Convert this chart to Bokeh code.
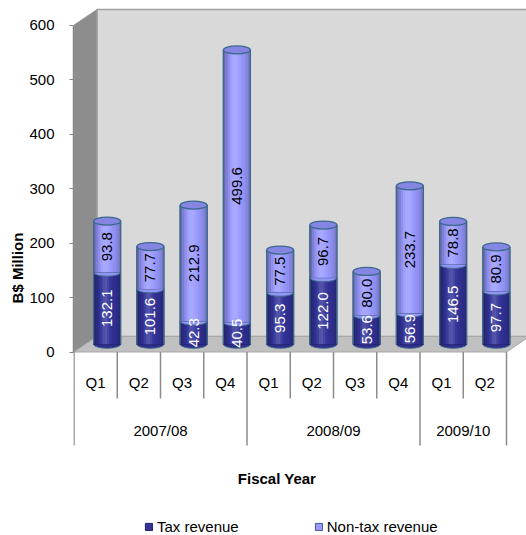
import math
from bokeh.plotting import figure
from bokeh.models import ColumnDataSource, Range1d, FixedTicker, Legend, LegendItem
from bokeh.core.properties import value
from bokeh.embed import file_html
from bokeh.resources import INLINE

# ---------------- data ----------------
years = ["2007/08", "2008/09", "2009/10"]
year_quarter_counts = [4, 4, 2]
quarters = ["Q1", "Q2", "Q3", "Q4", "Q1", "Q2", "Q3", "Q4", "Q1", "Q2"]
tax_revenue = [132.1, 101.6, 42.3, 40.5, 95.3, 122.0, 53.6, 56.9, 146.5, 97.7]
non_tax_revenue = [93.8, 77.7, 212.9, 499.6, 77.5, 96.7, 80.0, 233.7, 78.8, 80.9]
y_ticks = [0, 100, 200, 300, 400, 500, 600]
series_names = ["Tax revenue", "Non-tax revenue"]

# ---------------- geometry / style ----------------
W, H = 526, 535
LEFT = 73
PX_X = 43.25          # pixels per category
PX_Y = 0.545          # pixels per value unit
Y0_PX = 351.5         # pixel row of value 0
n = len(quarters)
YMAX = y_ticks[-1]

x_start = -0.5 - 0.5 / PX_X
x_end = x_start + (W - LEFT) / PX_X
y_end = Y0_PX / PX_Y
y_start = -(H - Y0_PX) / PX_Y

DX = 23 / PX_X        # 3D depth offset
DY = 15.5 / PX_Y
BW = 27 / PX_X        # cylinder width
EH = 8 / PX_Y         # ellipse height

FONT = value("Liberation Sans")
TAX = (0x33, 0x33, 0x99)
NONTAX = (0x99, 0x99, 0xFF)
EDGE = "#3d6a8c"


def shade(rgb, f):
    out = []
    for c in rgb:
        if f >= 1:
            v = c + (255 - c) * (f - 1) * 1.6
        else:
            v = c * f
        out.append(int(max(0, min(255, round(v)))))
    return "#%02x%02x%02x" % tuple(out)


profile = [0.70, 0.82, 0.93, 1.03, 1.09, 1.10, 1.06, 1.01, 0.97, 0.93, 0.87, 0.78]
NS = len(profile)

p = figure(width=W, height=H, output_backend="svg", toolbar_location=None,
           x_axis_location=None, y_axis_location="left", title=None,
           x_range=Range1d(x_start, x_end), y_range=Range1d(y_start, y_end),
           min_border_left=LEFT, min_border_right=0, min_border_top=0, min_border_bottom=0)
p.outline_line_color = None
p.grid.visible = False
p.background_fill_color = "white"
p.border_fill_color = "white"

ax = p.yaxis[0]
ax.ticker = FixedTicker(ticks=y_ticks, minor_ticks=[])
ax.bounds = (0, YMAX)
ax.axis_line_color = "#868686"
ax.axis_line_width = 1.5
ax.major_tick_line_color = "#868686"
ax.major_tick_out = 4
ax.major_tick_in = 0
ax.major_label_standoff = 15
ax.major_label_text_font = "Liberation Sans"
ax.major_label_text_font_size = "15px"
ax.major_label_text_color = "#000000"
ax.axis_label = "B$ Million"
ax.axis_label_text_font = "Liberation Sans"
ax.axis_label_text_font_size = "15px"
ax.axis_label_text_font_style = "bold"
ax.axis_label_text_color = "#000000"
ax.axis_label_standoff = 0

# ---------------- 3D walls ----------------
L0 = -0.5
R0 = n - 0.5
p.patch([L0 + DX, R0 + DX, R0 + DX, L0 + DX], [DY, DY, YMAX + DY, YMAX + DY],
        fill_color="#d9d9d9", line_color="#a0a0a0", line_width=1.5)
p.patch([L0, L0 + DX, L0 + DX, L0], [0, DY, YMAX + DY, YMAX],
        fill_color="#8d8d8d", line_color="#a0a0a0", line_width=1)
p.patch([L0, R0, R0 + DX, L0 + DX], [0, 0, DY, DY],
        fill_color="#c0c0c0", line_color="#a8a8a8", line_width=1)

# ---------------- cylinders ----------------
cx = [i + DX / 2 for i in range(n)]
tax_bottom = [DY / 2] * n
tax_top = [DY / 2 + t for t in tax_revenue]
total_top = [DY / 2 + t + nt for t, nt in zip(tax_revenue, non_tax_revenue)]

# bottom of stack
p.ellipse(x=cx, y=tax_bottom, width=BW, height=EH,
          fill_color=shade(TAX, 0.9), line_color=EDGE, line_width=1)
# base bar (covered by shading strips; also used as legend swatch)
r_tax = p.vbar(x=cx, bottom=tax_bottom, top=tax_top, width=BW,
               fill_color=shade(TAX, 1.0), line_color="#22226a", line_width=1)
for k, f in enumerate(profile):
    xs = [c - BW / 2 + (k + 0.5) * BW / NS for c in cx]
    p.vbar(x=xs, bottom=tax_bottom, top=tax_top, width=BW / NS * 1.08,
           fill_color=shade(TAX, f), line_color=None)
# bottom edge of non-tax segment (curved boundary)
p.ellipse(x=cx, y=tax_top, width=BW, height=EH,
          fill_color=shade(NONTAX, 0.97), line_color=EDGE, line_width=1)
r_non = p.vbar(x=cx, bottom=tax_top, top=total_top, width=BW,
               fill_color=shade(NONTAX, 1.0), line_color="#3d5a8c", line_width=1)
for k, f in enumerate(profile):
    xs = [c - BW / 2 + (k + 0.5) * BW / NS for c in cx]
    p.vbar(x=xs, bottom=tax_top, top=total_top, width=BW / NS * 1.08,
           fill_color=shade(NONTAX, f), line_color=None)
# sides
p.segment(x0=[c - BW / 2 for c in cx], y0=tax_bottom, x1=[c - BW / 2 for c in cx], y1=total_top,
          line_color=EDGE, line_width=1.3)
p.segment(x0=[c + BW / 2 for c in cx], y0=tax_bottom, x1=[c + BW / 2 for c in cx], y1=total_top,
          line_color=EDGE, line_width=1.3)
# top
p.ellipse(x=cx, y=total_top, width=BW, height=EH,
          fill_color="#8585e3", line_color=EDGE, line_width=1.3)

# data labels
lab = ColumnDataSource(dict(
    x=cx + cx,
    y=[b + t / 2 for b, t in zip(tax_bottom, tax_revenue)] +
      [tt + nt / 2 for tt, nt in zip(tax_top, non_tax_revenue)],
    t=["%.1f" % v for v in tax_revenue] + ["%.1f" % v for v in non_tax_revenue],
    c=["#ffffff"] * n + ["#000000"] * n,
))
p.text(x="x", y="y", text="t", source=lab, angle=math.pi / 2, text_color="c",
       text_font=FONT, text_font_size="15px", text_align="center", text_baseline="middle")

# ---------------- category table ----------------
def ypx(px):
    return -(px - Y0_PX) / PX_Y

boundaries = [0]
for c in year_quarter_counts:
    boundaries.append(boundaries[-1] + c)
sx, sy0, sy1 = [], [], []
for b in range(n + 1):
    sx.append(b - 0.5)
    sy0.append(0)
    sy1.append(ypx(445) if b in boundaries else ypx(398))
p.segment(x0=sx, y0=sy0, x1=sx, y1=sy1, line_color="#8c8c8c", line_width=1.5)

p.text(x=list(range(n)), y=[ypx(382)] * n, text=quarters, text_font=FONT,
       text_font_size="15px", text_color="#000000", text_align="center", text_baseline="middle")
yc = [(boundaries[i] + boundaries[i + 1]) / 2 - 0.5 for i in range(len(years))]
p.text(x=yc, y=[ypx(430)] * len(years), text=years, text_font=FONT,
       text_font_size="15px", text_color="#000000", text_align="center", text_baseline="middle")
p.text(x=[-0.5 + (276.5 - 73.5) / PX_X], y=[ypx(478)], text=["Fiscal Year"], text_font=FONT,
       text_font_size="15px", text_font_style="bold", text_color="#000000",
       text_align="center", text_baseline="middle")

# ---------------- legend ----------------
legend = Legend(items=[LegendItem(label=series_names[0], renderers=[r_tax], index=0),
                       LegendItem(label=series_names[1], renderers=[r_non], index=0)],
                orientation="horizontal", location=(71, 0), padding=0, margin=0,
                spacing=75, glyph_width=9, glyph_height=9, label_standoff=4,
                label_height=17, label_text_font="Liberation Sans", label_text_font_size="15px",
                label_text_color="#000000", border_line_alpha=0, background_fill_alpha=0)
p.add_layout(legend)

open("out.html", "w").write(file_html(p, INLINE))
